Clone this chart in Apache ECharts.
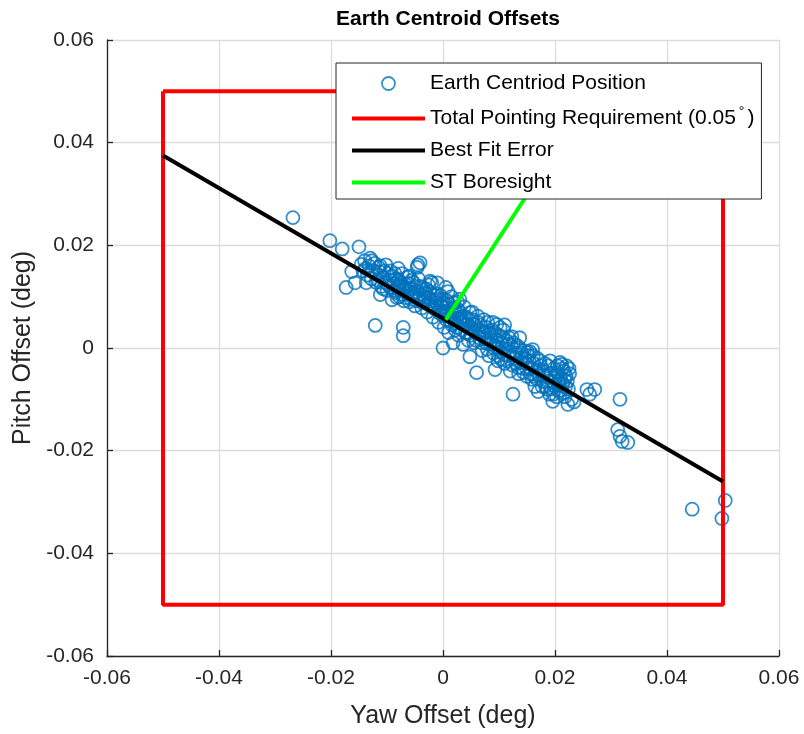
<!DOCTYPE html>
<html>
<head>
<meta charset="utf-8">
<script src="https://cdn.jsdelivr.net/npm/echarts@6/dist/echarts.min.js"></script>
<style>
  html, body { margin: 0; padding: 0; background: #fff; }
  #chart { width: 804px; height: 734px; }
</style>
</head>
<body>
<div id="chart"></div>
<script>
// Earth centroid position samples [yaw, pitch] (deg)
const centroidPts = [
  [-0.0268,0.0254],[-0.0202,0.0209],[-0.0180,0.0193],[-0.0150,0.0197],[-0.0163,0.0149],[-0.0173,0.0118],[-0.0157,0.0127],
  [-0.0146,0.0163],[-0.0140,0.0170],[-0.0138,0.0155],[-0.0135,0.0142],[-0.0132,0.0160],[-0.0130,0.0175],[-0.0128,0.0135],
  [-0.0125,0.0150],[-0.0122,0.0165],[-0.0120,0.0128],[-0.0118,0.0143],[-0.0115,0.0157],[-0.0112,0.0104],[-0.0110,0.0120],
  [-0.0108,0.0138],[-0.0105,0.0150],[-0.0103,0.0128],[-0.0100,0.0112],[-0.0098,0.0145],[-0.0095,0.0132],[-0.0093,0.0118],
  [-0.0091,0.0094],[-0.0090,0.0140],[-0.0088,0.0125],[-0.0085,0.0108],[-0.0083,0.0135],[-0.0080,0.0118],[-0.0078,0.0100],
  [-0.0076,0.0128],[-0.0073,0.0145],[-0.0071,0.0112],[-0.0070,0.0092],[-0.0068,0.0125],[-0.0065,0.0105],[-0.0063,0.0138],
  [-0.0060,0.0090],[-0.0058,0.0115],[-0.0055,0.0100],[-0.0053,0.0128],[-0.0050,0.0082],[-0.0048,0.0110],[-0.0046,0.0157],
  [-0.0045,0.0162],[-0.0043,0.0095],[-0.0041,0.0166],[-0.0040,0.0120],[-0.0038,0.0078],[-0.0035,0.0105],[-0.0033,0.0090],
  [-0.0030,0.0115],[-0.0028,0.0070],[-0.0025,0.0098],[-0.0023,0.0130],[-0.0021,0.0082],[-0.0020,0.0127],[-0.0018,0.0060],
  [-0.0015,0.0092],[-0.0013,0.0075],[-0.0010,0.0105],[-0.0010,0.0127],[-0.0008,0.0050],[-0.0005,0.0085],[-0.0003,0.0065],
  [0.0000,0.0000],[0.0000,0.0095],[0.0002,0.0040],[0.0004,0.0072],[0.0006,0.0055],[0.0009,0.0110],[0.0010,0.0030],
  [0.0012,0.0085],[0.0014,0.0062],[0.0016,0.0045],[0.0018,0.0010],[0.0020,0.0078],[0.0022,0.0035],[0.0024,0.0058],
  [0.0026,0.0090],[0.0028,0.0025],[0.0030,0.0068],[0.0033,0.0048],[0.0036,0.0007],[0.0038,0.0080],[0.0040,0.0030],
  [0.0042,0.0060],[0.0045,0.0015],[0.0048,-0.0017],[0.0048,0.0069],[0.0050,0.0040],[0.0053,0.0055],[0.0055,0.0010],
  [0.0058,0.0030],[0.0060,-0.0048],[0.0062,0.0062],[0.0065,0.0020],[0.0067,0.0045],[0.0070,-0.0005],[0.0072,0.0030],
  [0.0075,0.0030],[0.0078,0.0010],[0.0080,0.0050],[0.0082,-0.0015],[0.0085,0.0020],[0.0088,0.0035],[0.0089,0.0050],
  [0.0091,0.0000],[0.0093,-0.0042],[0.0095,0.0015],[0.0096,0.0046],[0.0098,-0.0025],[0.0100,0.0025],[0.0103,-0.0008],
  [0.0105,0.0010],[0.0108,0.0035],[0.0110,-0.0030],[0.0112,0.0005],[0.0115,-0.0015],[0.0118,0.0020],[0.0120,-0.0045],
  [0.0123,0.0022],[0.0125,-0.0090],[0.0127,-0.0010],[0.0130,-0.0030],[0.0132,0.0005],[0.0135,-0.0050],[0.0137,0.0020],
  [0.0140,-0.0020],[0.0143,-0.0040],[0.0145,-0.0005],[0.0148,-0.0030],[0.0150,-0.0055],[0.0152,-0.0015],[0.0155,-0.0007],
  [0.0157,-0.0040],[0.0159,-0.0061],[0.0160,-0.0003],[0.0162,-0.0030],[0.0164,-0.0075],[0.0166,-0.0045],[0.0168,-0.0020],
  [0.0170,-0.0085],[0.0172,-0.0055],[0.0175,-0.0035],[0.0178,-0.0065],[0.0180,-0.0045],[0.0183,-0.0075],[0.0185,-0.0055],
  [0.0188,-0.0035],[0.0190,-0.0090],[0.0192,-0.0050],[0.0195,-0.0065],[0.0196,-0.0104],[0.0198,-0.0040],[0.0200,-0.0075],
  [0.0202,-0.0055],[0.0205,-0.0035],[0.0207,-0.0085],[0.0209,-0.0028],[0.0210,-0.0060],[0.0212,-0.0032],[0.0214,-0.0070],
  [0.0216,-0.0045],[0.0218,-0.0095],[0.0220,-0.0055],[0.0223,-0.0110],[0.0225,-0.0040],[0.0230,-0.0100],[0.0234,-0.0105],
  [0.0257,-0.0081],[0.0262,-0.0090],[0.0271,-0.0081],[0.0316,-0.0100],[0.0312,-0.0159],[0.0316,-0.0172],[0.0320,-0.0182],
  [0.0330,-0.0184],[0.0445,-0.0314],[0.0504,-0.0297],[0.0498,-0.0332],
  [-0.0087,0.0112],[-0.0082,0.0098],[-0.0077,0.0113],[-0.0072,0.0120],[-0.0067,0.0098],[-0.0062,0.0110],[-0.0057,0.0095],
  [-0.0052,0.0107],[-0.0047,0.0092],[-0.0042,0.0104],[-0.0037,0.0088],[-0.0032,0.0099],[-0.0027,0.0085],[-0.0022,0.0093],
  [-0.0017,0.0078],[-0.0012,0.0088],[-0.0007,0.0070],[-0.0002,0.0080],[0.0003,0.0062],[0.0008,0.0072],[0.0013,0.0052],
  [0.0017,0.0065],[0.0021,0.0048],[0.0025,0.0040],[0.0029,0.0055],[0.0034,0.0035],[0.0039,0.0045],[0.0044,0.0028],
  [0.0049,0.0025],[0.0054,0.0035],[0.0059,0.0015],[0.0064,0.0028],[0.0069,0.0010],[0.0074,0.0018],[0.0079,-0.0002],
  [0.0084,0.0008],[0.0090,-0.0010],[0.0094,0.0003],[0.0099,-0.0015],[0.0104,-0.0022],[0.0109,-0.0012],[0.0114,-0.0025],
  [0.0119,-0.0008],[0.0124,-0.0033],[0.0129,-0.0020],[0.0134,-0.0038],[0.0139,-0.0028],[0.0144,-0.0048],[0.0149,-0.0040],
  [0.0154,-0.0025],[0.0163,-0.0055],[0.0171,-0.0042],[0.0179,-0.0052],[0.0187,-0.0064],[0.0193,-0.0078],[0.0199,-0.0060],
  [0.0204,-0.0048],[0.0208,-0.0070],[0.0211,-0.0082],[0.0213,-0.0040],[0.0217,-0.0062],[0.0219,-0.0075],[0.0221,-0.0035],
  [0.0215,-0.0088],[-0.0121,0.0044],[-0.0071,0.0040],[-0.0071,0.0024],[-0.0112,0.0160],[-0.0102,0.0162],[-0.0080,0.0155],
  [-0.0060,0.0140],[-0.0026,0.0123],[0.0005,0.0118],[0.0015,0.0100],[0.0030,0.0095],[0.0110,0.0045],
  [-0.0143,0.0150],[-0.0137,0.0127],[-0.0127,0.0170],[-0.0117,0.0132],[-0.0113,0.0148],[-0.0107,0.0115],[-0.0097,0.0122],
  [-0.0094,0.0150],[-0.0086,0.0145],[-0.0079,0.0132],[-0.0074,0.0105],[-0.0066,0.0118],[-0.0061,0.0125],[-0.0056,0.0132],
  [-0.0049,0.0120],[-0.0044,0.0135],[-0.0036,0.0118],[-0.0031,0.0108],[-0.0024,0.0110],[-0.0016,0.0102],[-0.0011,0.0095],
  [-0.0004,0.0102],[0.0001,0.0088],[0.0007,0.0092],[0.0011,0.0065],[0.0019,0.0088],[0.0023,0.0070],[0.0027,0.0075],
  [0.0032,0.0060],[0.0037,0.0062],[0.0043,0.0045],[0.0047,0.0055],[0.0052,0.0070],[0.0057,0.0045],[0.0063,0.0050],
  [0.0068,0.0035],[0.0073,0.0055],[0.0077,0.0040],[0.0083,0.0030],[0.0087,0.0015],[0.0092,0.0030],[0.0097,0.0010],
  [0.0102,0.0040],[0.0107,0.0020],[0.0113,0.0015],[0.0117,0.0008],[0.0122,0.0005],[0.0126,0.0010],[0.0131,-0.0010],
  [0.0136,0.0000],[0.0141,-0.0010],[0.0146,-0.0020],[0.0151,-0.0008],[0.0156,-0.0050],[0.0161,-0.0015],[0.0167,-0.0060],
  [0.0173,-0.0025],[0.0177,-0.0075],[0.0182,-0.0030],[0.0186,-0.0080],[0.0191,-0.0025],[0.0197,-0.0090],[0.0203,-0.0095],
  [0.0206,-0.0065],[0.0222,-0.0065],[0.0224,-0.0080],[0.0226,-0.0050]
];

// total pointing requirement box (+/- 0.05 deg)
const reqYaw = [-0.05, 0.05, 0.05, -0.05, -0.05];
const reqPitch = [0.05, 0.05, -0.05, -0.05, 0.05];

// best fit line end points
const fitYaw = [-0.05, 0.05];
const fitPitch = [0.0375, -0.026];

// star tracker boresight (runs under the legend)
const boreYaw = [0.0005, 0.0175];
const borePitch = [0.0055, 0.034];

const seriesNames = ['Earth Centriod Position', 'Total Pointing Requirement (0.05°)', 'Best Fit Error', 'ST Boresight'];
const seriesColors = ['#0072BD', '#ff0000', '#000000', '#00ff00'];

const FONT = 'Liberation Sans, Arial, Helvetica, sans-serif';
const zip = (xs, ys) => xs.map((x, i) => [x, ys[i]]);

const chart = echarts.init(document.getElementById('chart'), null, { renderer: 'canvas' });

const axisCommon = {
  type: 'value',
  min: -0.06,
  max: 0.06,
  interval: 0.02,
  axisLine: { show: true, onZero: false, lineStyle: { color: '#262626', width: 1.3 } },
  axisTick: { show: true, inside: true, length: 6, lineStyle: { color: '#262626', width: 1.3 } },
  splitLine: { show: true, lineStyle: { color: '#dcdcdc', width: 1.3 } },
  axisLabel: { color: '#262626', fontSize: 21, fontFamily: FONT },
  nameLocation: 'middle',
  nameTextStyle: { color: '#262626', fontSize: 25, fontFamily: FONT }
};

// legend entries: lines get a thick stroke and no marker
const legendData = seriesNames.map((name, i) => i === 0
  ? { name: name, itemStyle: { color: 'rgba(0,0,0,0)', borderColor: seriesColors[0], borderWidth: 1.8 } }
  : { name: name, itemStyle: { color: 'rgba(0,0,0,0)', borderWidth: 0, opacity: 0 },
      lineStyle: { color: seriesColors[i], width: 4 } });

const lineSeries = (i, xs, ys, z) => ({
  name: seriesNames[i], type: 'line', z: z,
  showSymbol: false, symbol: 'none',
  lineStyle: { color: seriesColors[i], width: 4 },
  itemStyle: { color: seriesColors[i] },
  data: zip(xs, ys)
});

const option = {
  backgroundColor: '#ffffff',
  animation: false,
  title: {
    text: 'Earth Centroid Offsets',
    left: 443, top: 4, textAlign: 'center',
    textStyle: { fontSize: 21, fontWeight: 'bold', color: '#000', fontFamily: FONT }
  },
  grid: { left: 107, right: 25, top: 40, bottom: 77 },
  xAxis: Object.assign({}, axisCommon, {
    name: 'Yaw Offset (deg)', nameGap: 48,
    axisLabel: Object.assign({}, axisCommon.axisLabel, { margin: 12 })
  }),
  yAxis: Object.assign({}, axisCommon, {
    name: 'Pitch Offset (deg)', nameGap: 71,
    axisLabel: Object.assign({}, axisCommon.axisLabel, { margin: 13 })
  }),
  legend: {
    z: 20,
    orient: 'vertical',
    left: 336, top: 63,
    padding: [10, 7, 6, 14],
    itemGap: 11,
    itemWidth: 73,
    itemHeight: 13,
    backgroundColor: '#ffffff',
    borderColor: '#262626',
    borderWidth: 1,
    borderRadius: 0,
    data: legendData,
    formatter: name => name === seriesNames[1] ? 'Total Pointing Requirement (0.05{s|°})' : name,
    textStyle: {
      fontSize: 21, color: '#000', fontFamily: FONT,
      rich: { s: { fontSize: 14, padding: [0, 3, 13, 3], fontFamily: FONT, color: '#000' } }
    }
  },
  series: [
    {
      name: seriesNames[0], type: 'scatter', z: 2,
      symbol: 'circle', symbolSize: 13,
      itemStyle: { color: 'rgba(0,0,0,0)', borderColor: seriesColors[0], borderWidth: 1.8 },
      data: centroidPts
    },
    lineSeries(1, reqYaw, reqPitch, 3),
    lineSeries(2, fitYaw, fitPitch, 4),
    lineSeries(3, boreYaw, borePitch, 4)
  ]
};

chart.setOption(option);
</script>
</body>
</html>
